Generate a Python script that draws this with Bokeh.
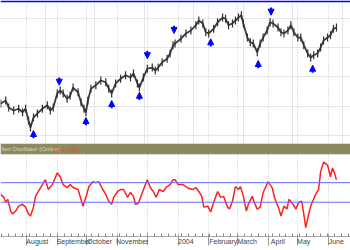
import math
from bokeh.plotting import figure
from bokeh.layouts import column
from bokeh.models import (Range1d, FixedTicker, Span, BoxAnnotation, Label, Arrow,
                          NormalHead, ColumnDataSource, Grid)
from bokeh.embed import file_html
from bokeh.resources import INLINE

# ---- data (x = days since 2003-07-01) ----
month_start_days = [0, 31, 62, 92, 123, 153, 184, 215, 244, 275, 305, 336]
month_labels = ["July", "August", "September", "October", "November", "",
                "2004", "February", "March", "April", "May", "June"]

price_days = [5, 10, 13, 18, 23, 27, 30, 33, 35, 38, 42, 47, 52, 55, 58, 62, 65, 68, 72, 75,
              78, 83, 86, 89, 91, 93, 96, 101, 106, 111, 114, 117, 121, 126, 131, 136, 139, 143,
              145, 149, 153, 158, 161, 164, 168, 173, 176, 179, 181, 187, 192, 197, 202, 205,
              209, 212, 215, 220, 224, 229, 232, 235, 239, 242, 245, 248, 250, 254, 257, 260,
              264, 267, 270, 274, 277, 280, 285, 288, 291, 295, 298, 301, 305, 308, 311, 315,
              318, 321, 325, 328, 331, 335, 338, 341, 344]
price_close = [1005, 1010, 998, 993, 996, 990, 996, 976, 964, 981, 988, 996, 1002, 993, 998,
               1022, 1027, 1022, 1013, 1018, 1032, 1024, 1007, 996, 990, 1010, 1030, 1036, 1044,
               1041, 1030, 1022, 1039, 1047, 1053, 1049, 1056, 1039, 1032, 1049, 1064, 1066,
               1061, 1066, 1075, 1081, 1090, 1104, 1107, 1115, 1124, 1129, 1138, 1146, 1141,
               1126, 1124, 1132, 1143, 1151, 1149, 1138, 1141, 1146, 1151, 1155, 1141, 1117,
               1109, 1107, 1092, 1107, 1117, 1129, 1143, 1141, 1134, 1126, 1124, 1129, 1138,
               1126, 1117, 1117, 1104, 1090, 1083, 1087, 1090, 1100, 1112, 1117, 1121, 1132, 1134]

buy_days = [38, 91, 117, 145, 217, 265, 320]
buy_prices = [959, 981, 1010, 1024, 1115, 1078, 1070]
sell_days = [64, 153, 180, 278]
sell_prices = [1036, 1081, 1124, 1155]

osc_days = [5, 8, 10, 12, 15, 17, 20, 23, 27, 30, 33, 35, 38, 40, 43, 47, 50, 53, 57, 60, 62,
            65, 68, 72, 75, 78, 83, 86, 88, 91, 94, 98, 101, 104, 108, 111, 114, 117, 119, 123,
            126, 129, 133, 136, 139, 141, 144, 148, 151, 153, 156, 159, 162, 165, 169, 173,
            176, 179, 181, 184, 189, 192, 195, 199, 202, 205, 208, 210, 214, 217, 220, 224,
            227, 230, 234, 236, 239, 242, 245, 247, 250, 253, 255, 259, 261, 264, 267, 270,
            275, 279, 282, 286, 288, 291, 294, 296, 300, 303, 306, 309, 311, 313, 316, 318,
            320, 323, 326, 328, 331, 335, 338, 340, 342, 344]
osc_values = [46, 40, 30, 36, 12, 6, 12, 22, 26, 20, 6, 2, 20, 42, 52, 66, 76, 56, 66, 80, 90,
              82, 66, 60, 66, 60, 56, 36, 22, 40, 62, 72, 70, 72, 56, 46, 32, 26, 40, 52,
              56, 56, 40, 50, 42, 26, 28, 50, 66, 76, 60, 52, 40, 56, 52, 62,
              66, 76, 76, 66, 66, 62, 58, 56, 60, 52, 42, 20, 22, 10, 30, 52,
              40, 42, 20, 16, 32, 62, 56, 62, 42, 12, 26, 42, 30, 16, 20, 50,
              72, 60, 36, 16, 2, 22, 16, 36, 26, 16, 30, 32, 6, -22, 6, 22,
              32, 46, 56, 92, 112, 106, 82, 100, 90, 76]
osc_levels = [30, 70]

week_days = list(range(6, 358, 7))

FONT = "Liberation Sans"
X0, X1 = 4.7, 358.2
NBSP = "\u00a0"


def left_pad(label):
    # axis labels are centred on the tick: pad on the left so the text starts at the tick
    return NBSP * (round(len(label) * 1.75) + 1) + label if label else ""


# ---- price panel ----
p = figure(width=350, height=143, x_range=Range1d(X0, X1), y_range=Range1d(936.9, 1176.6),
           output_backend="svg", toolbar_location=None, x_axis_location=None,
           y_axis_location=None, min_border_left=0, min_border_right=0,
           min_border_bottom=0, min_border_top=2)
p.border_fill_color = "#0000ff"
p.background_fill_color = "white"
p.outline_line_color = None
p.add_layout(Grid(dimension=0, ticker=FixedTicker(ticks=month_start_days),
                  grid_line_color="#c4c4c4", grid_line_dash="1 2"))

p.line(price_days, price_close, line_color="#3c3c3c", line_width=1.8)
p.scatter(price_days, price_close, marker="dash", angle=math.pi / 2, size=8,
          line_color="#303030", line_width=1.2)

arrow_len = 13
up_src = ColumnDataSource(dict(x=buy_days, y1=buy_prices,
                               y0=[v - arrow_len for v in buy_prices]))
dn_src = ColumnDataSource(dict(x=sell_days, y1=sell_prices,
                               y0=[v + arrow_len for v in sell_prices]))
for src in (up_src, dn_src):
    p.add_layout(Arrow(end=NormalHead(size=6, fill_color="#0000ff", line_color="#0000ff"),
                       x_start="x", y_start="y0", x_end="x", y_end="y1", source=src,
                       line_color="#0000ff", line_width=2))

# ---- oscillator panel ----
q = figure(width=350, height=104, x_range=p.x_range, y_range=Range1d(-40, 150),
           output_backend="svg", toolbar_location=None, y_axis_location=None,
           min_border_left=0, min_border_right=0, min_border_bottom=0, min_border_top=0)
q.background_fill_color = "white"
q.outline_line_color = None
q.ygrid.visible = False
q.xgrid.ticker = FixedTicker(ticks=month_start_days)
q.xgrid.grid_line_color = "#c4c4c4"
q.xgrid.grid_line_dash = "1 2"

for lv in osc_levels:
    q.add_layout(Span(location=lv, dimension="width", line_color="#6b6bff", line_width=1))
q.line(osc_days, osc_values, line_color="#ff2020", line_width=1.5)

q.add_layout(BoxAnnotation(bottom=128, fill_color="#8a8a5e", fill_alpha=1,
                           line_color="#c9c9c9", line_width=1))
q.add_layout(Label(x=1, y=139, x_units="screen", text="llen Oscillator (Online)",
                   text_font=FONT, text_font_size="6px", text_color="#d6d6cc",
                   text_baseline="middle"))
q.add_layout(Label(x=53, y=139, x_units="screen", text="(127.102)",
                   text_font=FONT, text_font_size="6px", text_color="#e04a2a",
                   text_baseline="middle"))
# first month label (its tick lies just left of the visible range)
q.add_layout(Label(x=0, x_units="screen", y=-42, text=month_labels[0],
                   text_font=FONT, text_font_size="7px", text_color="#444444",
                   text_baseline="top"))

ax = q.xaxis[0]
ax.ticker = FixedTicker(ticks=month_start_days, minor_ticks=week_days)
ax.major_label_overrides = {d: left_pad(lab) for d, lab in zip(month_start_days, month_labels)}
ax.major_label_text_font = FONT
ax.major_label_text_font_size = "7px"
ax.major_label_text_color = "#444444"
ax.major_label_standoff = -8
ax.axis_line_color = "#aaaaaa"
ax.major_tick_in = 2
ax.major_tick_out = 9
ax.major_tick_line_color = "#999999"
ax.minor_tick_in = 3
ax.minor_tick_out = 0
ax.minor_tick_line_color = "#888888"

# ---- bottom blue strip ----
b = figure(width=350, height=3, x_range=p.x_range, y_range=Range1d(0, 1),
           output_backend="svg", toolbar_location=None, x_axis_location=None,
           y_axis_location=None, min_border=0)
b.background_fill_color = "#0000ff"
b.border_fill_color = "#0000ff"
b.outline_line_color = None
b.grid.visible = False

layout = column(p, q, b, spacing=0)
open("out.html", "w").write(file_html(layout, INLINE))
